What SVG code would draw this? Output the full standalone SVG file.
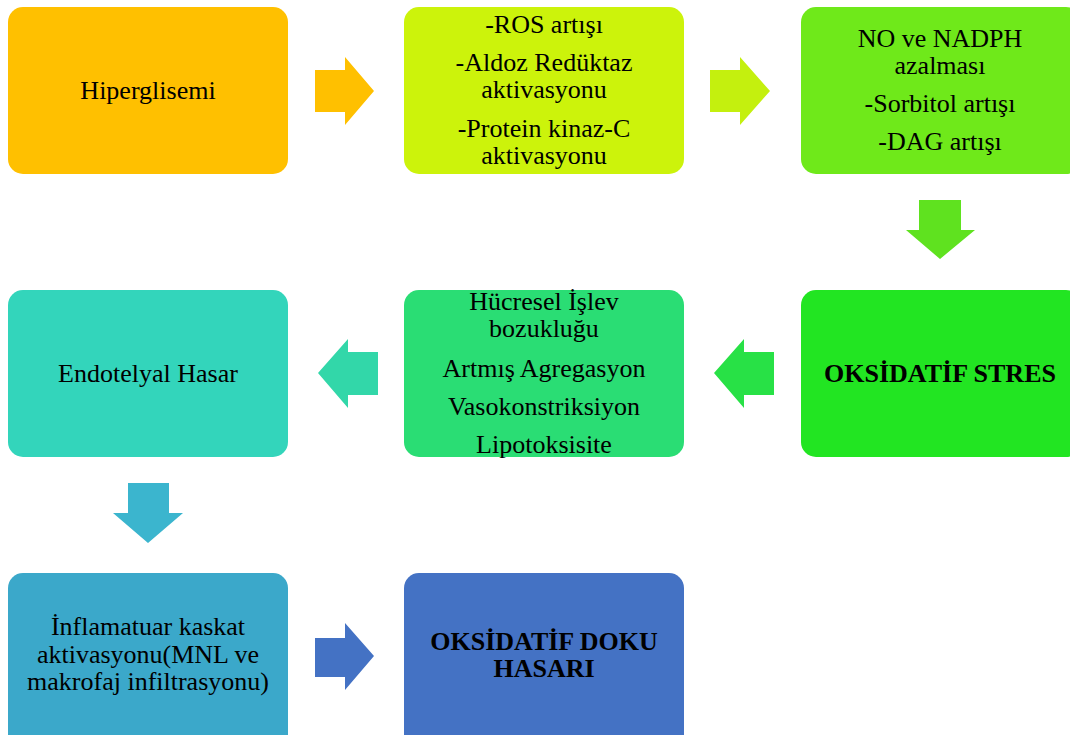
<svg xmlns="http://www.w3.org/2000/svg" width="1070" height="735" viewBox="0 0 1070 735">
<style>
text{font-family:"Liberation Serif","Times New Roman",serif;font-size:26px;fill:#000;text-anchor:middle}
.b{font-weight:bold}
</style>
<rect width="1070" height="735" fill="#fff"/>
<g id="connectors">
<polygon points="315,70 345,70 345,57 374,91 345,125 345,112 315,112" fill="#FFC000"/>
<polygon points="710,70 740,70 740,57 770,91 740,125 740,112 710,112" fill="#C4F00E"/>
<polygon points="919,200 961,200 961,230 975,230 940,259 906,230 919,230" fill="#5FE21F"/>
<polygon points="774,352 744,352 744,339 714,373 744,408 744,395 774,395" fill="#28E146"/>
<polygon points="378,352 348,352 348,339 318,373 348,408 348,395 378,395" fill="#32D7A9"/>
<polygon points="128,483 169,483 169,513 183,513 148,543 113,513 128,513" fill="#3BB5CE"/>
<polygon points="315,638 345,638 345,623 374,656 345,690 345,677 315,677" fill="#4472C4"/>
</g>
<g id="n1"><rect x="8" y="7" width="280" height="167" rx="15" fill="#FFC000"/><text x="148" y="99">Hiperglisemi</text></g>
<g id="n2"><rect x="404" y="7" width="280" height="167" rx="15" fill="#CCF30B"/>
<text x="544" y="33">-ROS artışı</text>
<text x="544" y="71">-Aldoz Redüktaz</text>
<text x="544" y="98">aktivasyonu</text>
<text x="544" y="137">-Protein kinaz-C</text>
<text x="544" y="164">aktivasyonu</text></g>
<g id="n3"><rect x="801" y="7" width="280" height="167" rx="15" fill="#6FE91A"/>
<text x="940" y="47">NO ve NADPH</text>
<text x="940" y="74">azalması</text>
<text x="940" y="112">-Sorbitol artışı</text>
<text x="940" y="150">-DAG artışı</text></g>
<g id="n4"><rect x="801" y="290" width="280" height="167" rx="15" fill="#22E522"/>
<text class="b" x="940" y="382">OKSİDATİF STRES</text></g>
<g id="n5"><rect x="404" y="290" width="280" height="167" rx="15" fill="#2ADD74"/>
<text x="544" y="310">Hücresel İşlev</text>
<text x="544" y="337">bozukluğu</text>
<text x="544" y="377">Artmış Agregasyon</text>
<text x="544" y="415">Vasokonstriksiyon</text>
<text x="544" y="453">Lipotoksisite</text></g>
<g id="n6"><rect x="8" y="290" width="280" height="167" rx="15" fill="#33D5BB"/>
<text x="148" y="382">Endotelyal Hasar</text></g>
<g id="n7"><rect x="8" y="573" width="280" height="180" rx="15" fill="#3BA8CA"/>
<text x="148" y="635">İnflamatuar kaskat</text>
<text x="148" y="663">aktivasyonu(MNL ve</text>
<text x="148" y="690">makrofaj infiltrasyonu)</text></g>
<g id="n8"><rect x="404" y="573" width="280" height="180" rx="15" fill="#4472C4"/>
<text class="b" x="544" y="650">OKSİDATİF DOKU</text>
<text class="b" x="544" y="677">HASARI</text></g>
</svg>
